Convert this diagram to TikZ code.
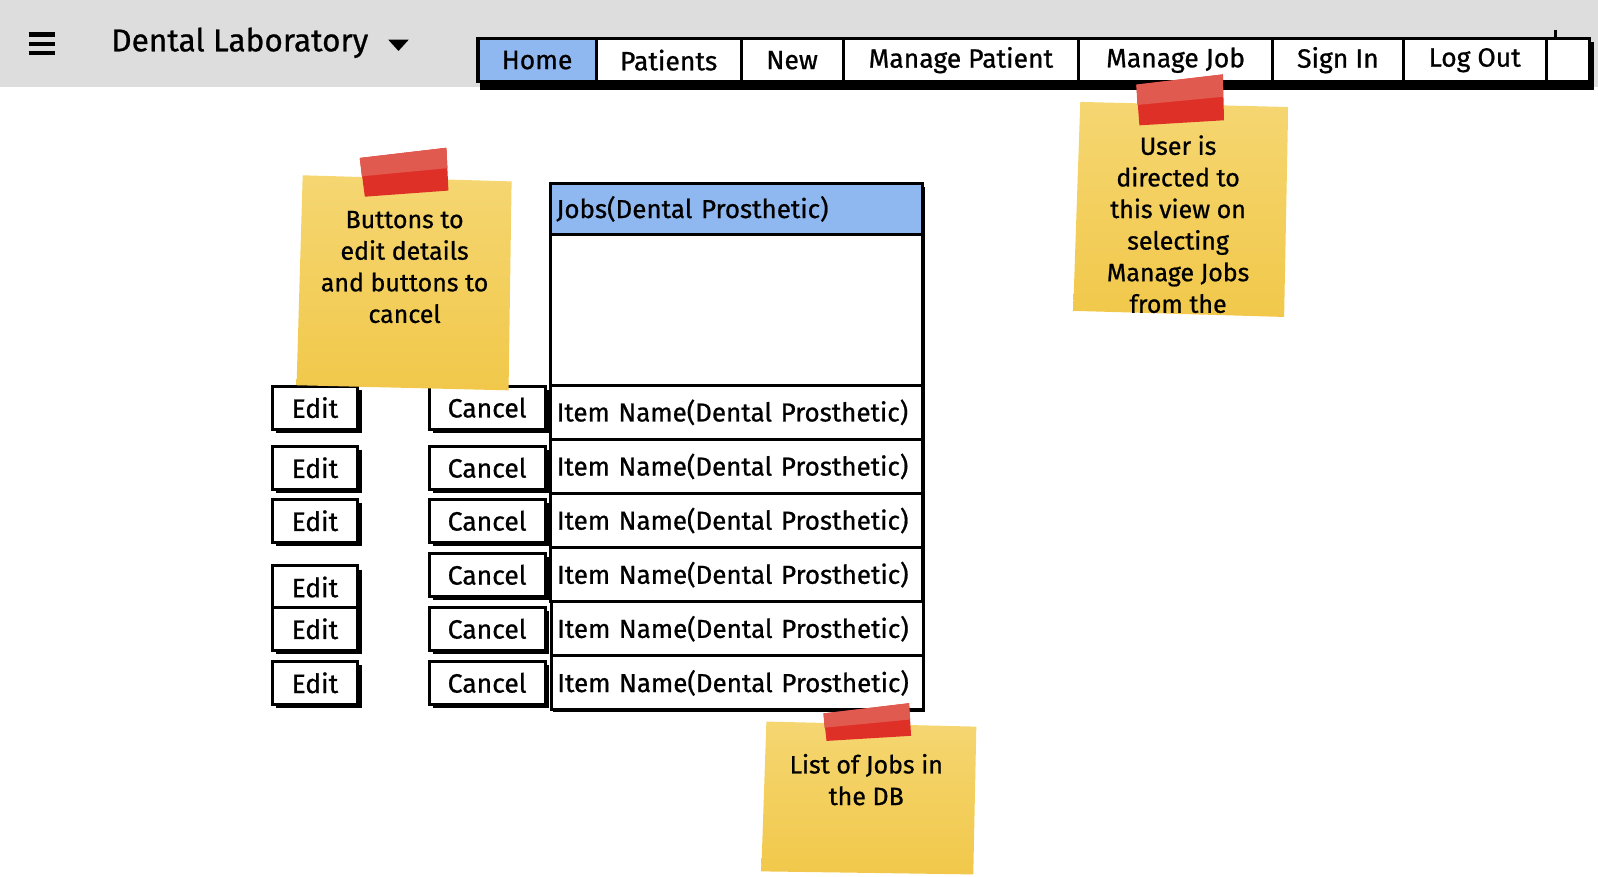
\documentclass[tikz,border=0pt]{standalone}
\usepackage{fontspec}
\setmainfont{Fira Sans}[FakeBold=0.8]
\usetikzlibrary{positioning,shadows}
\definecolor{barGrey}{HTML}{DDDDDD}
\definecolor{navBlue}{HTML}{90B8F0}
\definecolor{noteYellow}{HTML}{F1C84A}
\definecolor{noteLight}{HTML}{F5D671}
\definecolor{tapeRed}{HTML}{DE3027}
\definecolor{tapeLight}{HTML}{E15A50}
\tikzset{
navcell/.style={
  draw=black,
  line width=3pt,
  fill=white,
  minimum height=42pt,
  inner sep=0pt,
  outer sep=0pt,
  anchor=west,
  font=\fontsize{26}{30}\selectfont,
  }
}
\tikzset{
tablecell/.style={
  draw=black,
  line width=3pt,
  fill=white,
  minimum width=365pt,
  minimum height=53pt,
  text width=353pt,
  inner xsep=6pt,
  outer sep=0pt,
  align=left,
  font=\fontsize{25.5}{30}\selectfont,
  }
}
\tikzset{
btn/.style={
  draw=black,
  line width=3pt,
  fill=white,
  minimum height=42pt,
  inner sep=0pt,
  font=\fontsize{26}{30}\selectfont,
  general shadow={fill=black, shadow xshift=4pt, shadow yshift=-4pt},
  },
editbtn/.style={btn, minimum width=84pt},
cancelbtn/.style={btn, minimum width=114pt}
}
\tikzset{
notefill/.style={top color=noteLight, bottom color=noteYellow},
notetext/.style={align=center, font=\fontsize{24.5}{31}\selectfont}
}

\begin{document}
\begin{tikzpicture}[x=1pt,y=-1pt,scale=1.0191,every node/.append style={transform shape}]
    \useasboundingbox (0,0) rectangle (1568,859.6);

    % top bar
    \fill[barGrey] (0,0) rectangle (1568,85);
    \draw[line width=4.5pt] (28,34) -- (54,34) (28,43) -- (54,43) (28,52) -- (54,52);
    \node[anchor=west, inner sep=0pt, font=\fontsize{31}{36}\selectfont] (title) at (109,42) {Dental Laboratory};
    \fill (381,39) -- (401,39) -- (391,50) -- cycle;

    % nav part
    \fill (471,41) rectangle (1564,88);
    \node[navcell, fill=navBlue, minimum width=116pt] (home) at (469,59) {Home};
    \node[navcell, minimum width=142pt, right=0pt of home] (patients) {Patients};
    \node[navcell, minimum width=100pt, right=0pt of patients] (new) {New};
    \node[navcell, minimum width=231pt, right=0pt of new] (mpatient) {Manage Patient};
    \node[navcell, minimum width=190pt, right=0pt of mpatient] (mjob) {Manage Job};
    \node[navcell, minimum width=128pt, right=0pt of mjob] (signin) {Sign In};
    \node[navcell, minimum width=140pt, right=0pt of signin] (logout) {Log Out};
    \node[navcell, minimum width=42pt, right=0pt of logout] (navend) {};
    \draw[line width=3.5pt] (home.north west) rectangle (navend.south east);
    \draw[line width=3pt] (1526,29) -- (1526,37);

    % table part
    \fill (543,183) rectangle (908,699);
    \node[tablecell, fill=navBlue, minimum height=50pt, anchor=north west] (jobs) at (540,180) {Jobs(Dental Prosthetic)};
    \node[tablecell, minimum height=148pt, below=0pt of jobs] (blankrows) {};
    \node[tablecell, below=0pt of blankrows] (item1) {Item Name(Dental Prosthetic)};
    \node[tablecell, below=0pt of item1] (item2) {Item Name(Dental Prosthetic)};
    \node[tablecell, below=0pt of item2] (item3) {Item Name(Dental Prosthetic)};
    \node[tablecell, below=0pt of item3] (item4) {Item Name(Dental Prosthetic)};
    \node[tablecell, below=0pt of item4] (item5) {Item Name(Dental Prosthetic)};
    \node[tablecell, below=0pt of item5] (item6) {Item Name(Dental Prosthetic)};

    % edit buttons
    \node[editbtn] (edit1) at (309,400) {Edit};
    \node[editbtn] (edit2) at (309,459) {Edit};
    \node[editbtn] (edit3) at (309,511) {Edit};
    \node[editbtn] (edit4) at (309,576) {Edit};
    \node[editbtn] (edit5) at (309,617) {Edit};
    \node[editbtn] (edit6) at (309,670) {Edit};

    % cancel buttons
    \node[cancelbtn] (cancel1) at (478,400) {Cancel};
    \node[cancelbtn] (cancel2) at (478,459) {Cancel};
    \node[cancelbtn] (cancel3) at (478,511) {Cancel};
    \node[cancelbtn] (cancel4) at (478,564) {Cancel};
    \node[cancelbtn] (cancel5) at (478,617) {Cancel};
    \node[cancelbtn] (cancel6) at (478,670) {Cancel};

    % sticky notes
    \path[notefill] (297,172) -- (502,178) -- (499,383) -- (291,378) -- cycle;
    \fill[tapeRed] (353,155) -- (438,145) -- (440,187) -- (358,193) -- cycle;
    \fill[tapeLight] (353,155) -- (438,145) -- (439,165) -- (355,173) -- cycle;
    \node[notetext] (buttonsnote) at (397,262) {Buttons to\\edit details\\and buttons to\\cancel};

    \path[notefill] (1060,100) -- (1264,105) -- (1260,311) -- (1053,305) -- cycle;
    \fill[tapeRed] (1115,83) -- (1200,73) -- (1201,118) -- (1118,123) -- cycle;
    \fill[tapeLight] (1115,83) -- (1200,73) -- (1200,95) -- (1116,103) -- cycle;
    \node[notetext] (viewnote) at (1156,220) {User is\\directed to\\this view on\\selecting\\Manage Jobs\\from the};

    \path[notefill] (752,708) -- (958,713) -- (955,858) -- (747,855) -- cycle;
    \fill[tapeRed] (808,700) -- (892,690) -- (894,722) -- (811,727) -- cycle;
    \fill[tapeLight] (808,700) -- (892,690) -- (893,706) -- (809,714) -- cycle;
    \node[notetext] (listnote) at (850,765) {List of Jobs in\\the DB};
\end{tikzpicture}
\end{document}
